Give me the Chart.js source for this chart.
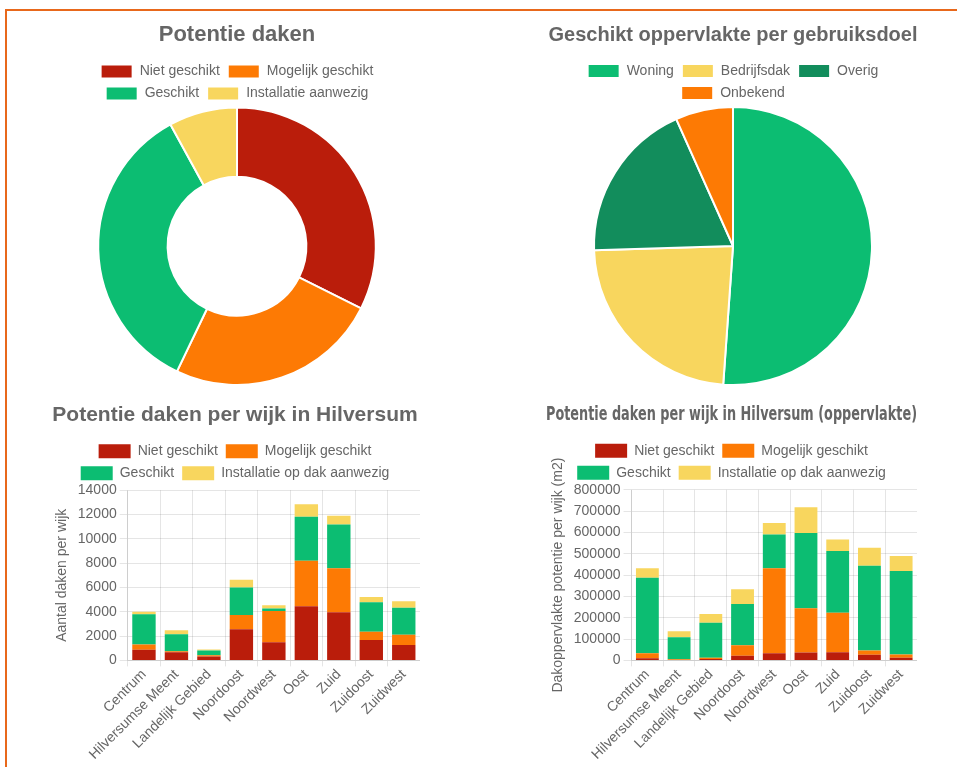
<!DOCTYPE html>
<html>
<head>
<meta charset="utf-8">
<script src="https://cdn.jsdelivr.net/npm/chart.js@4/dist/chart.umd.min.js"></script>
<style>
  body { margin: 0; background: #fff; overflow: hidden; }
  #frame { position: absolute; left: 5px; top: 9px; width: 1000px; height: 800px;
           border-top: 2px solid #e8681b; border-left: 2px solid #e8681b; }
  .box { position: absolute; }
</style>
</head>
<body>
<div id="frame"></div>
<div class="box" style="left:50px;top:10px;width:374px;height:376px"><canvas id="chart0"></canvas></div>
<div class="box" style="left:546px;top:10px;width:374px;height:376px"><canvas id="chart1"></canvas></div>
<div class="box" style="left:50px;top:391px;width:370px;height:372px"><canvas id="chart2"></canvas></div>
<div class="box" style="left:546px;top:391px;width:371px;height:372px"><canvas id="chart3"></canvas></div>
<script>
// kleuren
var RED = 'rgb(186,29,11)', ORANGE = 'rgb(253,122,4)', GREEN = 'rgb(12,189,114)',
    YELLOW = 'rgb(248,214,94)', DARKGREEN = 'rgb(18,141,92)';

// Potentie daken (totaal)
var potentieLabels = ['Niet geschikt', 'Mogelijk geschikt', 'Geschikt', 'Installatie aanwezig'];
var potentieTotaal = [17300, 13200, 18650, 4250];

// Geschikt oppervlakte per gebruiksdoel
var doelLabels = ['Woning', 'Bedrijfsdak', 'Overig', 'Onbekend'];
var doelWaarden = [1230000, 563000, 452000, 161000];

// per wijk
var wijken = ['Centrum', 'Hilversumse Meent', 'Landelijk Gebied', 'Noordoost', 'Noordwest', 'Oost', 'Zuid', 'Zuidoost', 'Zuidwest'];
var wijkLabels = ['Niet geschikt', 'Mogelijk geschikt', 'Geschikt', 'Installatie op dak aanwezig'];

// aantal daken per wijk
var aantalNiet      = [870, 670, 320, 2570, 1490, 4460, 3970, 1680, 1270];
var aantalMogelijk  = [430, 80, 110, 1160, 2565, 3730, 3600, 670, 840];
var aantalGeschikt  = [2490, 1410, 380, 2270, 215, 3625, 3600, 2435, 2215];
var aantalInstall   = [210, 330, 80, 625, 270, 1025, 730, 430, 545];

// oppervlakte (m2) per wijk
var oppNiet     = [10000, 2000, 7000, 22000, 34000, 37000, 38000, 26000, 13000];
var oppMogelijk = [23000, 3000, 6000, 49000, 398000, 207000, 186000, 20000, 15000];
var oppGeschikt = [355000, 103000, 163000, 193000, 158000, 354000, 289000, 398000, 391000];
var oppInstall  = [44000, 29000, 42000, 70000, 54000, 120000, 54000, 84000, 70000];

Chart.defaults.font.family = '"Liberation Sans", Arial, sans-serif';
Chart.defaults.font.size = 14;
Chart.defaults.color = '#666';
Chart.defaults.animation = false;
Chart.defaults.maintainAspectRatio = false;

function legendOpts(maxH) {
    var l = { position: 'top', labels: { boxWidth: 32, boxHeight: 14, padding: 8 } };
    if (maxH) { l.maxHeight = maxH; }
    return l;
}
function titleOpts(text, size, family, pad) {
    return { display: true, text: text, color: '#666',
             font: { size: size, weight: 'bold', family: family || Chart.defaults.font.family },
             padding: pad || { top: 10, bottom: 10 } };
}

var config = [];

config.push({
    type: 'doughnut',
    data: { labels: potentieLabels,
            datasets: [{ data: potentieTotaal, backgroundColor: [RED, ORANGE, GREEN, YELLOW], hoverOffset: 0 }] },
    options: { plugins: { title: titleOpts('Potentie daken', 22, null, { top: 12, bottom: 8 }), legend: legendOpts(50) } }
});

config.push({
    type: 'pie',
    data: { labels: doelLabels,
            datasets: [{ data: doelWaarden, backgroundColor: [GREEN, YELLOW, DARKGREEN, ORANGE], hoverOffset: 0 }] },
    options: { plugins: { title: titleOpts('Geschikt oppervlakte per gebruiksdoel', 20, null, { top: 13, bottom: 9 }),
                          legend: legendOpts(50) } }
});

function barConfig(title, titleSize, titleFamily, titlePad, yTitle, max, step, sets) {
    return {
        type: 'bar',
        data: { labels: wijken,
                datasets: [
                    { label: wijkLabels[0], data: sets[0], backgroundColor: RED },
                    { label: wijkLabels[1], data: sets[1], backgroundColor: ORANGE },
                    { label: wijkLabels[2], data: sets[2], backgroundColor: GREEN },
                    { label: wijkLabels[3], data: sets[3], backgroundColor: YELLOW }
                ] },
        options: {
            plugins: { title: titleOpts(title, titleSize, titleFamily, titlePad), legend: legendOpts() },
            scales: {
                x: { stacked: true, grid: { tickLength: 6 },
                     ticks: { minRotation: 45, maxRotation: 45, autoSkip: false, padding: 0 } },
                y: { stacked: true, min: 0, max: max,
                     ticks: { stepSize: step, callback: function (v) { return String(v); } },
                     title: { display: true, text: yTitle } }
            }
        }
    };
}

config.push(barConfig('Potentie daken per wijk in Hilversum', 21, null, { top: 12, bottom: 8 },
    'Aantal daken per wijk', 14000, 2000,
    [aantalNiet, aantalMogelijk, aantalGeschikt, aantalInstall]));
config.push(barConfig('Potentie daken per wijk in Hilversum (oppervlakte)', 19,
    '"Liberation Sans Narrow", "DejaVu Sans Condensed", sans-serif', { top: 13, bottom: 9 },
    'Dakoppervlakte potentie per wijk (m2)', 800000, 100000,
    [oppNiet, oppMogelijk, oppGeschikt, oppInstall]));

var chart = [];
for (var i = 0; i < config.length; i++) {
    chart.push(new Chart(document.getElementById('chart' + i), config[i]));
}
</script>
</body>
</html>
